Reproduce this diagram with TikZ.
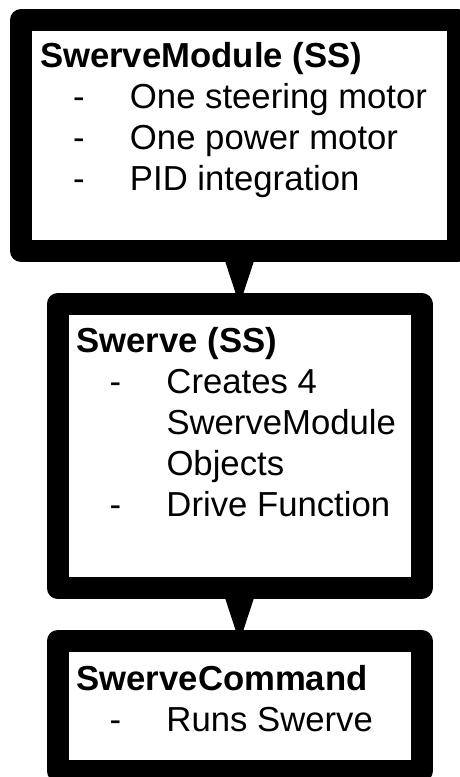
\documentclass[tikz,border=0pt]{standalone}
\usepackage{fontspec}
\setmainfont{Liberation Sans}
\usetikzlibrary{positioning, arrows.meta}

\newcommand{\itm}[1]{\makebox[90pt][l]{\hspace*{33pt}-}#1}
\newcommand{\cnt}[1]{\hspace*{90pt}#1}

\begin{document}
\begin{tikzpicture}[x = 1pt, y = -1pt,
    box/.style = { draw, line width = 22pt, line join = round, inner sep = 0pt },
    txt/.style = { align = left, inner sep = 0pt, outer sep = 0pt, font = \fontsize{34.7}{41}\selectfont },
    conn/.style = { -{Triangle[length = 43pt, width = 28pt]}, line width = 1pt, shorten > = -12pt }]
  \useasboundingbox (0,0) rectangle (460,777);
  \node [box, minimum width = 437pt, minimum height = 231pt] (module) at (239.5,135.5) {};
  \node [box, minimum width = 364pt, minimum height = 284pt, below = 31pt of module] (swerve) {};
  \node [box, minimum width = 364pt, minimum height = 130pt, below = 31pt of swerve] (command) {};
  \node [txt, below right = 33pt and 30pt of module.north west] (moduletxt)
    { \textbf{SwerveModule (SS)} \\ \itm{One steering motor} \\ \itm{One power motor} \\ \itm{PID integration} };
  \node [txt, below right = 34pt and 30pt of swerve.north west] (swervetxt)
    { \textbf{Swerve (SS)} \\ \itm{Creates 4} \\ \cnt{SwerveModule} \\ \cnt{Objects} \\ \itm{Drive Function} };
  \node [txt, below right = 35pt and 30pt of command.north west] (commandtxt)
    { \textbf{SwerveCommand} \\ \itm{Runs Swerve} };
  \draw [conn] (module) -- (swerve);
  \draw [conn] (swerve) -- (command);
\end{tikzpicture}
\end{document}
